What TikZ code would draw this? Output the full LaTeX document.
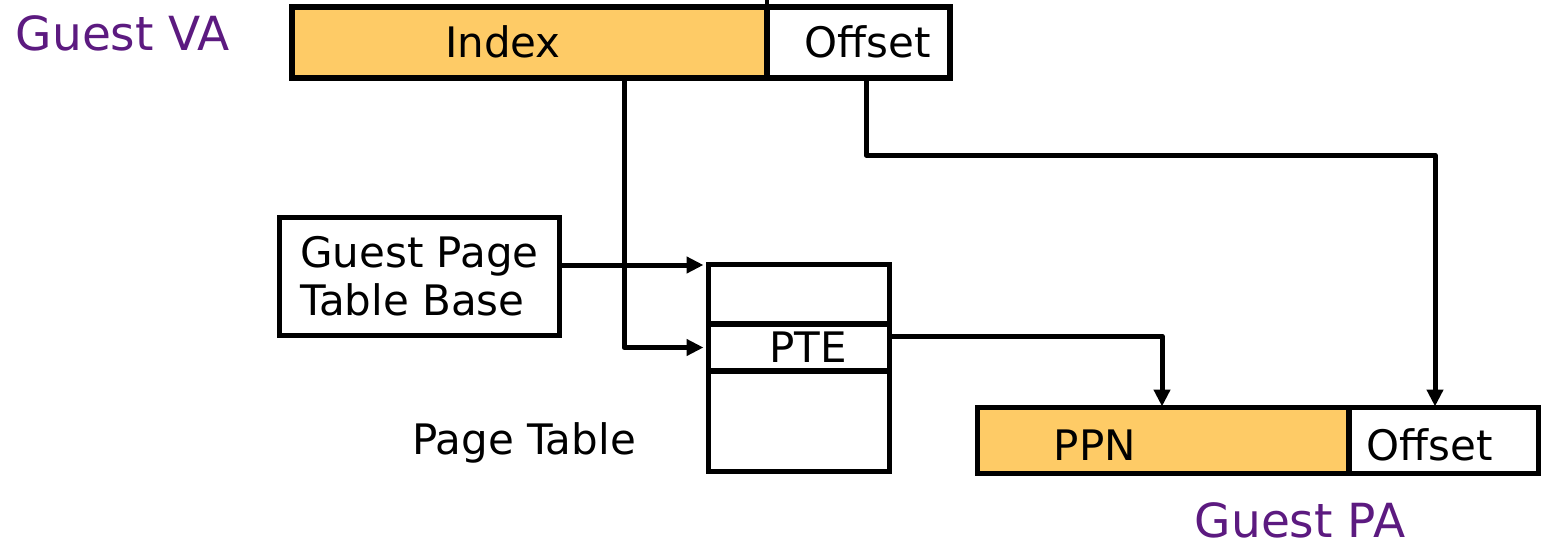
\documentclass[tikz,border=0pt]{standalone}
\usepackage{fontspec}
\setmainfont{DejaVu Sans}
\usetikzlibrary{arrows.meta}
\definecolor{fieldfill}{HTML}{FECB66}
\definecolor{labelpurple}{HTML}{5C1A80}
\begin{document}
\begin{tikzpicture}[x=1pt,y=-1pt,
  field/.style={draw=black, line width=5.5pt, inner sep=0pt, outer sep=0pt},
  txt/.style={font=\fontsize{42}{48}\selectfont, inner sep=0pt},
  tag/.style={font=\fontsize{47}{56}\selectfont, text=labelpurple, inner sep=0pt},
  link/.style={line width=5pt, line join=round, -{Triangle[length=17pt,width=16pt]}}]
\useasboundingbox (0,0) rectangle (1547,546);

% Guest virtual address: index and offset fields
\node[field, fill=fieldfill, minimum width=475, minimum height=71] (vaidx) at (529.5,42.5) {};
\node[field, minimum width=183, minimum height=71] (vaoff) at (858.5,42.5) {};
\draw[line width=4.5pt] (vaidx.north east) ++(0,-8) -- (vaidx.north east);
\node[txt] (idxt) at (503,42) {Index};
\node[txt] (vaofft) at (868,42) {Offset};
\node[tag] (gva) at (123,33) {Guest VA};

% Page table base register
\node[field, minimum width=280, minimum height=118, align=left, txt] (gptb) at (419.5,276.5) {Guest Page\\Table Base};

% Page table with the selected entry
\node[field, minimum width=181, minimum height=59.5] (ptrow1) at (799,294.25) {};
\node[field, minimum width=181, minimum height=47] (pte) at (799,347.5) {};
\node[field, minimum width=181, minimum height=100.5] (ptrow3) at (799,421.25) {};
\node[txt] (ptet) at (808,347) {PTE};
\node[txt] (ptlabel) at (524,443) {Page Table};

% Guest physical address: PPN and offset fields
\node[field, fill=fieldfill, minimum width=371.5, minimum height=66] (paidx) at (1163.25,440.5) {};
\node[field, minimum width=189.5, minimum height=66] (paoff) at (1443.75,440.5) {};
\node[txt] (ppnt) at (1095,445) {PPN};
\node[txt] (paofft) at (1430,445) {Offset};
\node[tag] (gpa) at (1300,520) {Guest PA};

% Routing points
\coordinate (idxcol) at (624,0);
\coordinate (offbend) at (1435,155);
\coordinate (offcol) at (866,0);
\coordinate (ptecol) at (1162,336);

% Connectors
\draw[link, shorten >=5pt] (gptb.east |- 0,265) -- (ptrow1.north west |- 0,265);
\draw[link, shorten >=5pt] (vaidx.south -| idxcol) |- (pte.west);
\draw[link, shorten >=1pt] (vaoff.south -| offcol) |- (offbend) -- (paoff.north -| offbend);
\draw[link, shorten >=1pt] (pte.east |- ptecol) -| (paidx.north -| ptecol);
\end{tikzpicture}
\end{document}
